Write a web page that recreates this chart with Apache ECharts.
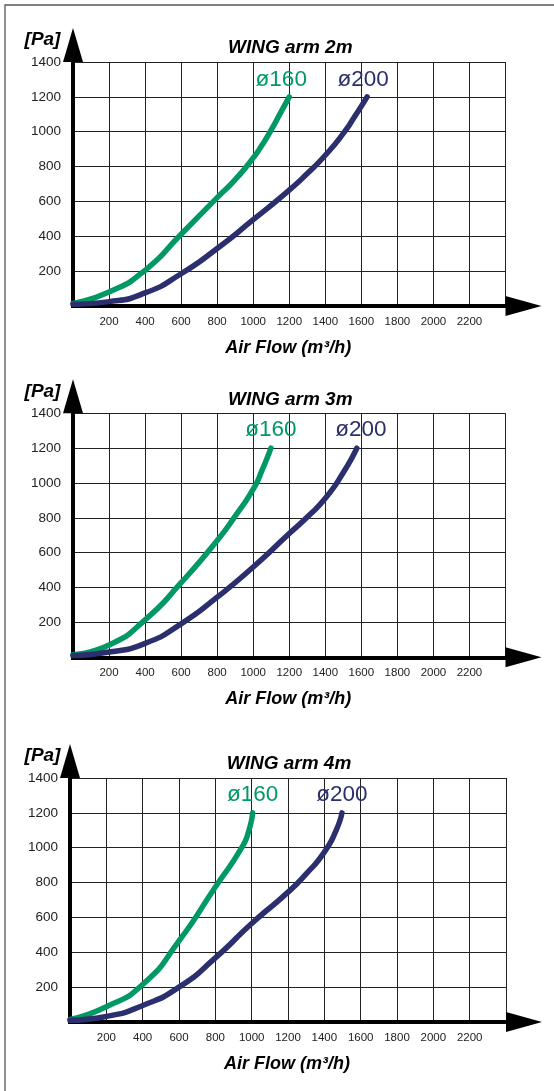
<!DOCTYPE html>
<html>
<head>
<meta charset="utf-8">
<script src="https://cdn.jsdelivr.net/npm/echarts@6/dist/echarts.min.js"></script>
<style>
html,body{margin:0;padding:0;background:#fff;}
#chart{width:554px;height:1091px;}
</style>
</head>
<body>
<div id="chart"></div>
<script>
// ---- data ----
const xMin = 0, xMax = 2400, xStep = 200;
const yMin = 0, yMax = 1400, yStep = 200;
const chartTitles = ['WING arm 2m', 'WING arm 3m', 'WING arm 4m'];
const seriesNames = ['ø160', 'ø200'];
const yAxisName = '[Pa]';
const xAxisName = 'Air Flow (m³/h)';

// [air flow m³/h, pressure Pa]
const arm2m_d160 = [[0,15],[200,80],[400,205],[600,412],[800,622],[900,725],[1000,850],[1050,925],[1100,1010],[1150,1105],[1200,1200]];
const arm2m_d200 = [[0,10],[200,25],[400,75],[600,185],[800,330],[1000,495],[1200,665],[1300,760],[1400,865],[1500,990],[1565,1090],[1632,1200]];
const arm3m_d160 = [[0,15],[200,70],[400,215],[600,428],[800,670],[900,810],[1000,965],[1050,1075],[1098,1200]];
const arm3m_d200 = [[0,10],[200,30],[400,80],[600,192],[800,345],[1000,518],[1200,710],[1300,805],[1400,912],[1500,1060],[1575,1200]];
const arm4m_d160 = [[0,15],[200,88],[400,215],[600,465],[800,775],[945,1000],[985,1100],[1005,1200]];
const arm4m_d200 = [[0,10],[200,32],[400,95],[600,200],[800,368],[1000,565],[1200,745],[1300,850],[1400,975],[1465,1100],[1497,1200]];

const panelData = [
  [arm2m_d160, arm2m_d200],
  [arm3m_d160, arm3m_d200],
  [arm4m_d160, arm4m_d200]
];

// ---- layout / style ----
const FONT = '"Liberation Sans", Arial, Helvetica, sans-serif';
const colors = ['#009966', '#2b2f6e'];
const panels = [
  {left: 73, top: 62,    width: 432.5, height: 244, labelOffsets: [[-8, -17], [-4, -17]]},
  {left: 73, top: 413.3, width: 432.5, height: 244, labelOffsets: [[0, -18], [4, -18]]},
  {left: 70, top: 778,   width: 436,   height: 244, labelOffsets: [[0, -18], [0, -18]]}
];

const grid = [], xAxis = [], yAxis = [], series = [], graphic = [];
const plain = v => String(v);

graphic.push({
  type: 'polyline', silent: true,
  shape: {points: [[5, 1091], [5, 5], [554, 5]]},
  style: {stroke: '#555', lineWidth: 1.3, fill: null}
});

panels.forEach((p, i) => {
  grid.push({left: p.left, top: p.top, width: p.width, height: p.height, containLabel: false});
  xAxis.push({
    gridIndex: i, type: 'value', min: xMin, max: xMax, interval: xStep,
    axisLine: {show: true, onZero: false, lineStyle: {color: '#000', width: 4, cap: 'square'},
      symbol: ['none', 'triangle'], symbolSize: [20, 36], symbolOffset: [0, 18]},
    axisTick: {show: false},
    splitLine: {show: true, lineStyle: {color: '#222', width: 1}},
    axisLabel: {showMinLabel: false, showMaxLabel: false, formatter: plain, fontSize: 11.5, color: '#222', margin: 10, fontFamily: FONT}
  });
  yAxis.push({
    gridIndex: i, type: 'value', min: yMin, max: yMax, interval: yStep,
    axisLine: {show: true, onZero: false, lineStyle: {color: '#000', width: 4, cap: 'square'},
      symbol: ['none', 'triangle'], symbolSize: [20, 34], symbolOffset: [0, 17]},
    axisTick: {show: false},
    splitLine: {show: true, lineStyle: {color: '#222', width: 1}},
    axisLabel: {showMinLabel: false, formatter: plain, fontSize: 13.5, color: '#222', margin: 12, fontFamily: FONT}
  });
  panelData[i].forEach((d, k) => {
    series.push({
      type: 'line', name: seriesNames[k], xAxisIndex: i, yAxisIndex: i,
      data: d, smooth: 0.6, showSymbol: false, z: 3,
      lineStyle: {width: 5.5, color: colors[k], cap: 'round', join: 'round'},
      markPoint: {
        symbol: 'circle', symbolSize: 0, silent: true,
        data: [{coord: d[d.length - 1]}],
        label: {show: true, position: 'inside', formatter: seriesNames[k], offset: p.labelOffsets[k],
          color: colors[k], fontSize: 22.5, fontFamily: FONT}
      }
    });
  });
  const cx = p.left + p.width / 2;
  graphic.push({
    type: 'text', silent: true, x: cx + 1, y: p.top - 14,
    style: {text: chartTitles[i], fill: '#000', font: 'italic bold 19px ' + FONT, align: 'center', verticalAlign: 'middle'}
  });
  graphic.push({
    type: 'text', silent: true, x: 42.5, y: p.top - 22,
    style: {text: yAxisName, fill: '#000', font: 'italic bold 19px ' + FONT, align: 'center', verticalAlign: 'middle'}
  });
  graphic.push({
    type: 'text', silent: true, x: cx - 1, y: p.top + p.height + 42,
    style: {text: xAxisName, fill: '#000', font: 'italic bold 18px ' + FONT, align: 'center', verticalAlign: 'middle'}
  });
});

const chart = echarts.init(document.getElementById('chart'), null, {renderer: 'canvas'});
chart.setOption({
  animation: false,
  backgroundColor: '#fff',
  grid, xAxis, yAxis, series, graphic
});
</script>
</body>
</html>
